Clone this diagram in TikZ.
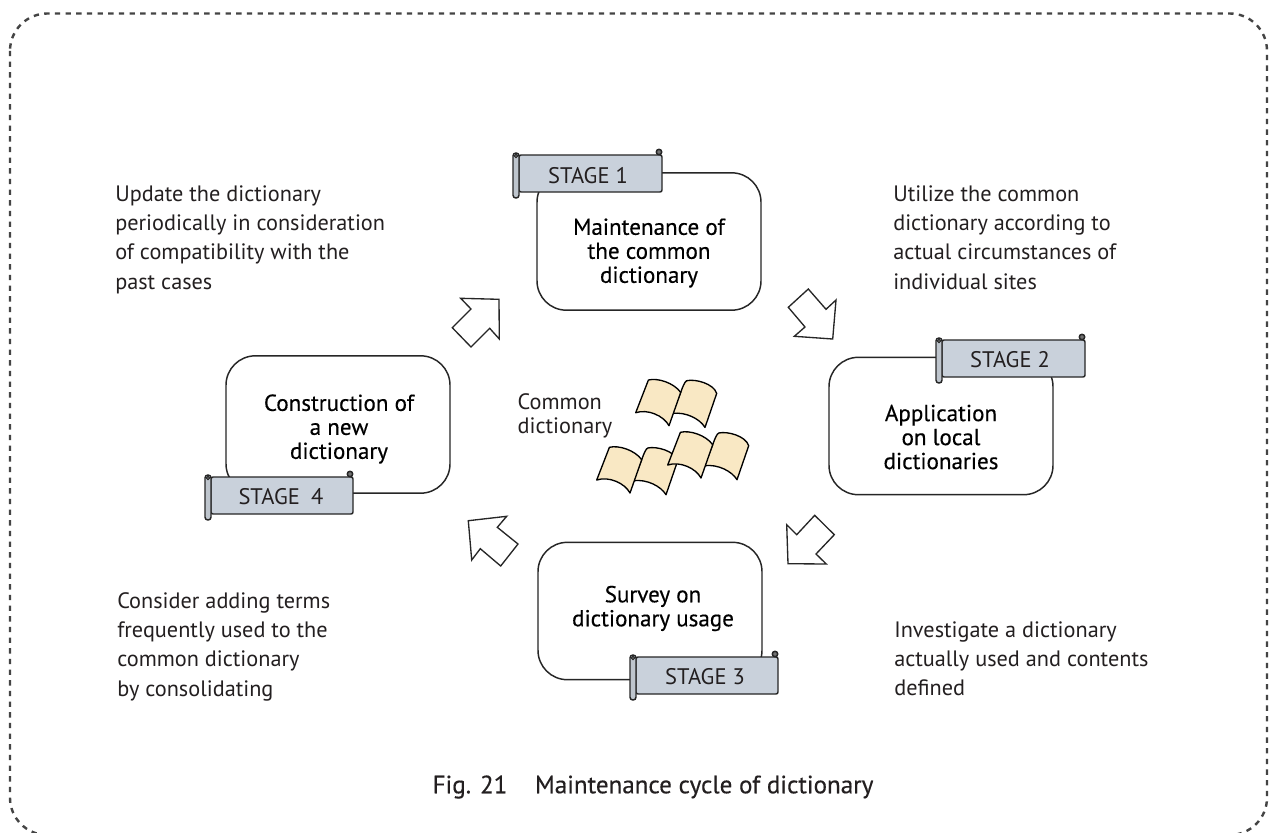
\documentclass[tikz,border=0pt]{standalone}
\usepackage{fontspec}
\setmainfont{PT Sans}
\newfontfamily\medfont[FakeBold=0.35]{PT Sans}
\definecolor{txt}{HTML}{231F20}
\definecolor{bannerfill}{HTML}{C9D1DB}
\definecolor{bookfill}{HTML}{F9E8C4}
\definecolor{dashc}{HTML}{444444}
\tikzset{
  x=0.75pt,y=-0.75pt,
  lbl/.style={font=\fontsize{16.7}{22}\selectfont,text=txt,align=left,inner sep=0pt,anchor=base west},
  ttl/.style={font=\medfont\fontsize{17.3}{18}\selectfont,text=black,align=center,inner sep=0pt},
  stagetxt/.style={font=\fontsize{16.9}{18}\selectfont,text=txt,inner sep=0pt},
  cardbox/.style={draw=black!85,line width=1.1pt,rounded corners=22pt,minimum width=168pt,minimum height=103pt,inner sep=0pt,fill=white},
  flow/.style={draw=black!85,line width=1pt,fill=white,line join=miter},
  bannerline/.style={draw=black!85,line width=1.1pt,fill=bannerfill},
  pagestyle/.style={draw=black,line width=1pt,fill=bookfill,line join=round},
}
\newcommand{\scrollbanner}[1]{%
  \path[bannerline,rounded corners=1.5pt] (6,0) -- (#1,0) -- (#1,37) -- (6,37) -- cycle;
  \path[bannerline,fill=black!55] (#1-3,-3) circle (2.7);
  \path[bannerline,rounded corners=2.1pt,fill=bannerfill!85!gray] (0,-2) rectangle (6,43);
  \path[bannerline,fill=black!55,line width=0.7pt] (3,1) circle (1.8);
}
\newcommand{\bookpair}[2]{%
 \begin{scope}[shift={(#1,#2)}]
  \path[pagestyle] (36.7,0.7) -- (45,-20.3) .. controls (47,-26) and (49,-31) .. (51,-32)
     .. controls (60,-34) and (78,-29) .. (81,-19.3) -- (69.3,14.7) .. controls (64,6) and (50,-1) .. (36.7,0.7) -- cycle;
  \path[pagestyle] (0,0) -- (12.7,-32.7) .. controls (22,-35) and (38,-30) .. (45,-20.3) -- (33.3,13)
     .. controls (28,3) and (12,-4) .. (0,0) -- cycle;
 \end{scope}}
\begin{document}
\begin{tikzpicture}
\useasboundingbox (0,0) rectangle (1277,832);
\path[fill=white] (0,0) rectangle (1277,832);
\draw[dashc,line width=1.8pt,dash pattern=on 4pt off 4pt,rounded corners=28pt] (10,13.5) rectangle (1267,835);

% cards
\node[cardbox] (box1) at (649,241.5) {};
\node[cardbox] (box2) at (941,426) {};
\node[cardbox] (box3) at (650,611) {};
\node[cardbox] (box4) at (338,424.5) {};

\node[ttl] (t1) at (649,253) {Maintenance of\\the common\\dictionary};
\node[ttl] (t2) at (941,437) {Application\\on local\\dictionaries};
\node[ttl] (t3) at (653,608.5) {Survey on\\dictionary usage};
\node[ttl] (t4) at (339,429) {Construction of\\a new\\dictionary};

% banners
\begin{scope}[shift={(513,155)}]
  \scrollbanner{149}
  \node[stagetxt] (s1) at (75,20.5) {STAGE 1};
\end{scope}
\begin{scope}[shift={(936,340)}]
  \scrollbanner{149}
  \node[stagetxt] (s2) at (74,20) {STAGE 2};
\end{scope}
\begin{scope}[shift={(630,657)}]
  \scrollbanner{148}
  \node[stagetxt] (s3) at (75,20) {STAGE 3};
\end{scope}
\begin{scope}[shift={(205,477)}]
  \scrollbanner{148}
  \node[stagetxt] (s4) at (76,20) {STAGE\hspace{0.5em}4};
\end{scope}

% block arrows
\path[flow] (460.7,298.3) -- (499,299.3) -- (499.3,339) -- (489.7,328.3) -- (471,347) -- (452.3,327.7) -- (471,309) -- cycle;
\path[flow] (808.3,289) -- (826,309.3) -- (836,300) -- (832.7,339) -- (794.3,336.3) -- (805,327) -- (788.3,307.3) -- cycle;
\path[flow] (814.7,515.3) -- (834.3,534.7) -- (816,554) -- (826.3,564) -- (788,563.7) -- (786.7,524.7) -- (796.7,534.7) -- cycle;
\path[flow] (468.3,520.7) -- (506.7,516.3) -- (497.3,527.3) -- (518,544) -- (500.7,566) -- (480.3,548.7) -- (471.7,560) -- cycle;

% books
\bookpair{635.7}{412.7}
\bookpair{596.7}{480}
\bookpair{667.7}{465}

% texts
\node[lbl,anchor=north west] (a1) at (115,185) {Update the dictionary\\periodically in consideration\\of compatibility with the\\past cases};
\node[lbl,anchor=north west] (a2) at (893,185) {Utilize the common\\dictionary according to\\actual circumstances of\\individual sites};
\node[lbl,anchor=north west] (a3) at (894,621) {Investigate a dictionary\\actually used and contents\\defined};
\node[lbl,anchor=north west] (a4) at (117,592) {Consider adding terms\\frequently used to the\\common dictionary\\by consolidating};
\node[lbl,font=\fontsize{16.7}{18}\selectfont,anchor=center] (cd) at (565,416) {Common\\dictionary};
\node[font=\medfont\fontsize{18.8}{20}\selectfont,text=txt,inner sep=0pt] (cap) at (653,787) {Fig. 21\hspace{1.1em}Maintenance cycle of dictionary};
\end{tikzpicture}
\end{document}
